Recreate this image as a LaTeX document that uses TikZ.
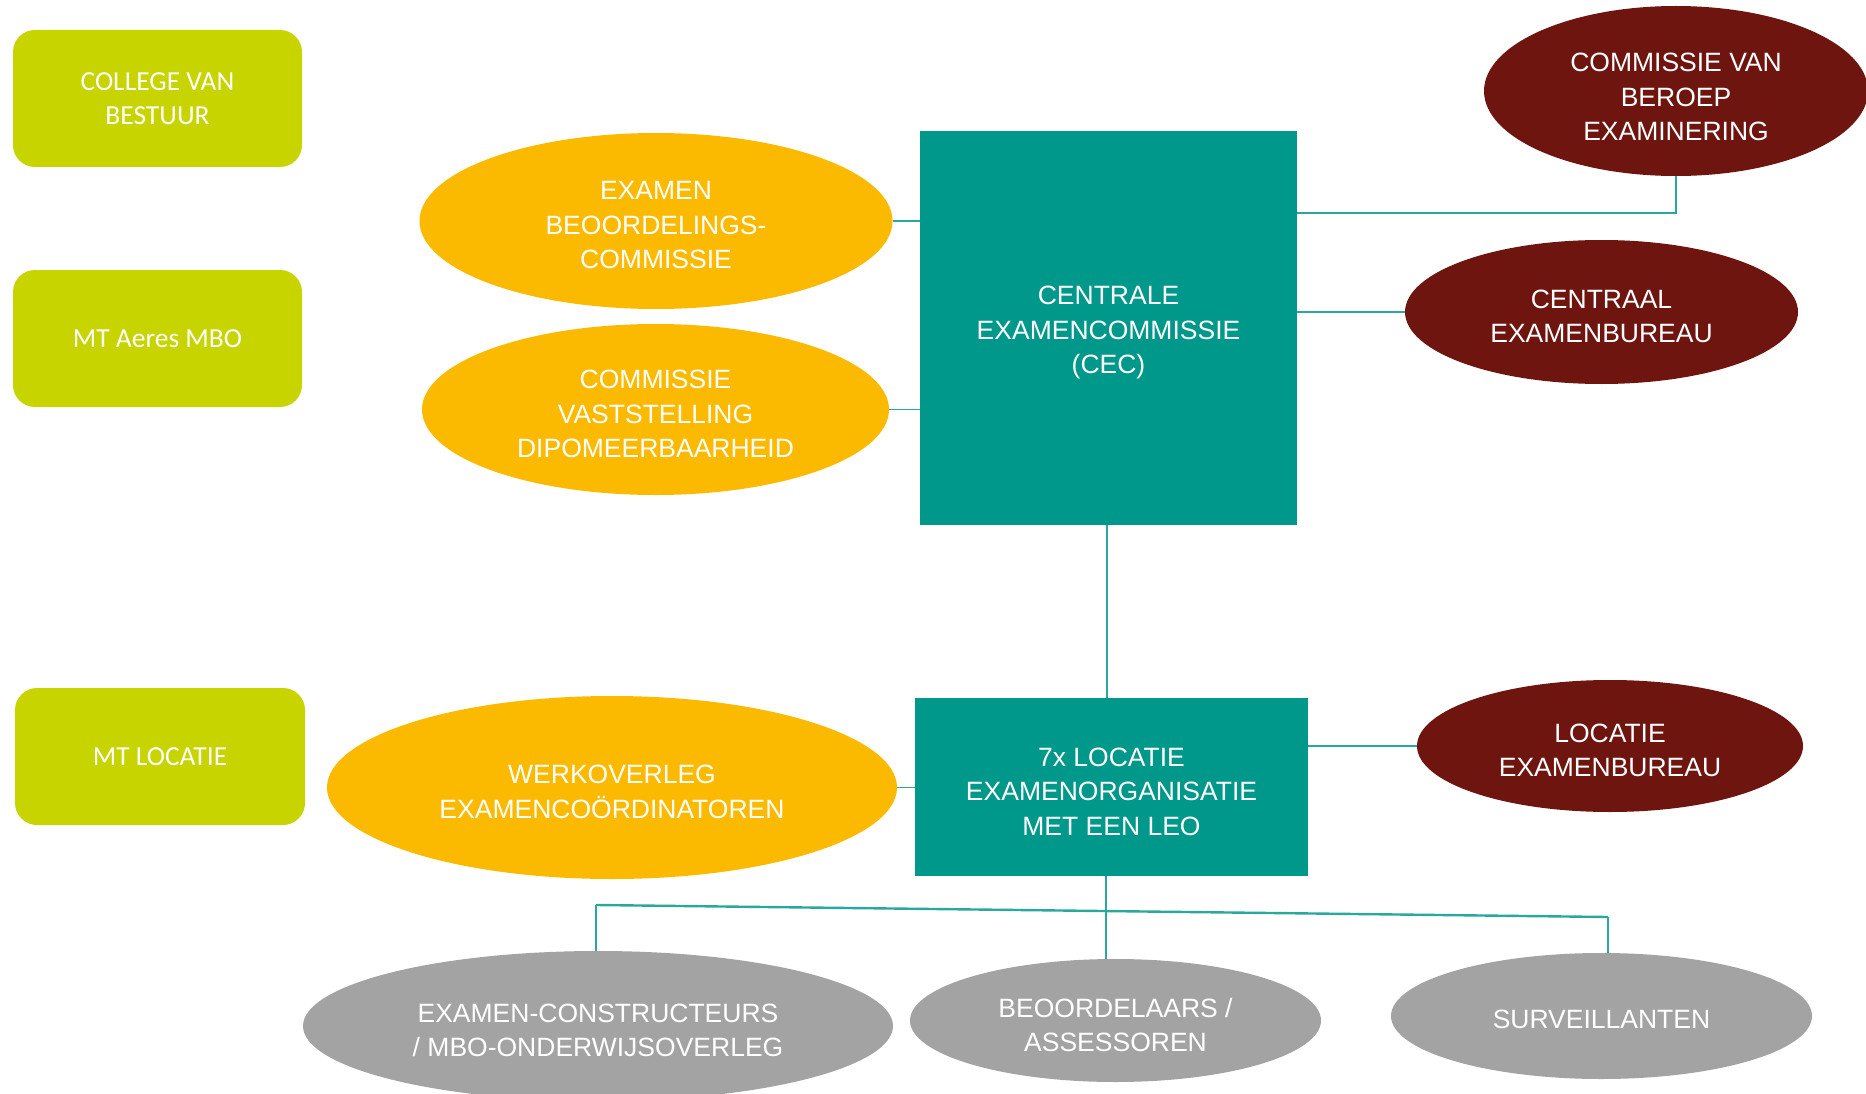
\documentclass[tikz,border=0pt]{standalone}
\usepackage{fontspec}
\setmainfont{Liberation Sans}
\newfontfamily\calfont{Carlito}
\usetikzlibrary{shapes.geometric}
\definecolor{limeg}{HTML}{C8D400}
\definecolor{orangey}{HTML}{FBBA00}
\definecolor{tealc}{HTML}{00988A}
\definecolor{tealline}{HTML}{2AA89B}
\definecolor{darkred}{HTML}{6E150F}
\definecolor{greyc}{HTML}{A3A3A3}
\begin{document}
\begin{tikzpicture}[x=1pt,y=-1pt,
  lbl/.style={text=white,align=center,font=\fontsize{26.5}{34.5}\selectfont,inner sep=0pt},
  % white caption set a little below the shape's centre
  tx/.style={lbl,yshift=-4.5pt},
  mgmt/.style={lbl,fill=limeg,rounded corners=22pt,minimum width=289pt,minimum height=137pt,
    font=\calfont\fontsize{27.5}{34.5}\selectfont},
  oval/.style={ellipse,inner sep=0pt},
  yellowoval/.style={oval,fill=orangey},
  redoval/.style={oval,fill=darkred},
  greyoval/.style={oval,fill=greyc},
  tealbox/.style={rectangle,inner sep=0pt,fill=tealc},
  link/.style={draw=tealline,line width=1.6pt}
]
\useasboundingbox (0,0) rectangle (1866,1094);

% management column
\node[mgmt] (cvb) at (157.5,98.5) {COLLEGE VAN\\BESTUUR};
\node[mgmt] (mta) at (157.5,338.5) {MT Aeres MBO};
\node[mgmt,minimum width=290pt] (mtl) at (160,756.5) {MT LOCATIE};

% central committee and its bodies
\node[tealbox,minimum width=377pt,minimum height=394pt,
  label={[tx]center:{CENTRALE\\EXAMENCOMMISSIE\\(CEC)}}] (cec) at (1108.5,328) {};
\node[yellowoval,minimum width=473pt,minimum height=176pt,
  label={[tx]center:{EXAMEN\\BEOORDELINGS-\\COMMISSIE}}] (ebc) at (656,221) {};
\node[yellowoval,minimum width=467pt,minimum height=171pt,
  label={[tx]center:{COMMISSIE\\VASTSTELLING\\DIPOMEERBAARHEID}}] (cvd) at (655.5,409.5) {};
\node[redoval,minimum width=384pt,minimum height=170pt,
  label={[tx,yshift=-1.5pt]center:{COMMISSIE VAN\\BEROEP\\EXAMINERING}}] (cbe) at (1676,91) {};
\node[redoval,minimum width=393pt,minimum height=144pt,
  label={[tx]center:{CENTRAAL\\EXAMENBUREAU}}] (ceb) at (1601.5,312) {};

% location level
\node[tealbox,minimum width=393pt,minimum height=178pt,
  label={[tx]center:{7x LOCATIE\\EXAMENORGANISATIE\\MET EEN LEO}}] (leo) at (1111.5,787) {};
\node[yellowoval,minimum width=570pt,minimum height=183pt,
  label={[tx]center:{WERKOVERLEG\\EXAMENCO\"ORDINATOREN}}] (wek) at (612,787.5) {};
\node[redoval,minimum width=386pt,minimum height=132pt,
  label={[tx]center:{LOCATIE\\EXAMENBUREAU}}] (leb) at (1610,746) {};

% executing roles
\node[greyoval,minimum width=590pt,minimum height=150pt,
  label={[tx]center:{EXAMEN-CONSTRUCTEURS\\/ MBO-ONDERWIJSOVERLEG}}] (ecn) at (598,1026) {};
\node[greyoval,minimum width=411pt,minimum height=123pt,
  label={[tx]center:{BEOORDELAARS /\\ASSESSOREN}}] (bas) at (1115.5,1020.5) {};
\node[greyoval,minimum width=421pt,minimum height=126pt,
  label={[tx,yshift=1.5pt]center:{SURVEILLANTEN}}] (sur) at (1601.5,1016) {};

% connectors
\coordinate (cecr) at (1297,213);
\coordinate (busL) at (596,905);
\coordinate (busR) at (1608,917);
\draw[link] (ebc.east) -- (ebc.east -| cec.west);
\draw[link] (cvd.east) -- (cvd.east -| cec.west);
\draw[link] (cecr) -| (cbe.south);
\draw[link] (ceb.west) -- (ceb.west -| cec.east);
\draw[link] (1107,525) -- (1107,698);
\draw[link] (leb.west) -- (leb.west -| leo.east);
\draw[link] (wek.east) -- (wek.east -| leo.west);
\draw[link,line width=1.2pt] (1106,876) -- (1106,959);
\draw[link,line width=2.4pt] (busL) -- (busR);
\draw[link,line width=1.2pt] (busL) -- (busL |- ecn.north);
\draw[link,line width=1.2pt] (busR) -- (busR |- sur.north);
\end{tikzpicture}
\end{document}
